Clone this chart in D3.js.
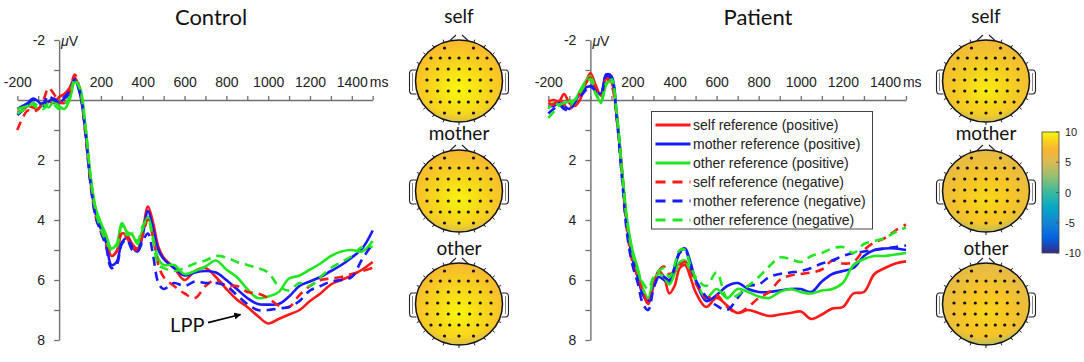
<!DOCTYPE html>
<html><head><meta charset="utf-8">
<script src="https://cdn.jsdelivr.net/npm/d3@7"></script>
<style>body{margin:0;background:#fff}svg{display:block}</style>
</head><body>
<svg id="chart" width="1084" height="362"></svg>
<script>
// ---------- DATA ----------
const times = [-200,-175,-150,-125,-100,-75,-50,-25,0,25,50,75,100,125,150,175,200,225,250,275,300,325,350,375,400,425,450,475,500,550,600,650,700,750,800,850,900,950,1000,1050,1100,1150,1200,1250,1300,1350,1400,1450,1500];

// Control group (µV)
const ctrlSelfPos = [0.4,0.35,0.2,0.25,0.3,0.1,0.05,0.1,-0.1,
  -0.2,-0.4,-0.75,-0.3,0.9,2.6,3.7,4.2,4.6,5.2,5.05,4.45,4.5,4.8,4.95,4.35,3.55,4.1,4.9,5.25,
  5.6,6.0,5.7,5.6,5.9,6.3,6.65,6.9,7.2,7.45,7.3,7.15,7.0,6.7,6.45,6.15,6.0,5.85,5.65,5.4];
const ctrlMotherPos = [0.3,0.2,0.1,-0.05,0.05,0.2,0.05,-0.05,0.1,
  -0.05,-0.2,-0.65,-0.2,1.0,2.7,3.8,4.3,4.75,5.5,5.4,4.75,4.6,4.9,5.05,4.5,3.7,4.3,5.0,5.3,
  5.6,5.85,5.75,5.7,5.75,6.0,6.3,6.6,6.8,6.82,6.8,6.55,6.2,6.05,5.9,5.7,5.5,5.25,4.95,4.35];
const ctrlOtherPos = [0.3,0.25,0.2,0.15,0.3,0.15,0.25,0.05,0.2,
  0.3,0.0,-0.6,-0.4,0.8,2.5,3.6,4.1,4.5,4.95,4.8,4.1,4.4,4.5,4.8,4.3,3.9,4.6,5.3,5.5,
  5.5,5.8,5.7,5.55,5.35,5.65,5.9,6.3,6.6,6.55,6.4,5.95,5.85,5.65,5.45,5.2,5.05,5.0,5.05,4.7];
const ctrlSelfNeg = [1.0,0.6,0.35,0.4,0.3,0.0,-0.4,-0.2,0.05,
  0.1,-0.3,-0.85,-0.3,1.1,2.8,3.9,4.4,4.85,5.2,5.05,4.4,4.6,4.9,5.0,4.5,4.0,4.6,5.5,5.9,
  6.2,6.45,6.6,6.2,6.0,6.2,6.2,6.4,6.45,6.6,6.85,6.9,6.5,6.2,6.0,5.95,5.9,5.8,5.7,5.6];
const ctrlMotherNeg = [0.5,0.35,0.15,0.0,0.1,0.1,-0.15,0.0,0.05,
  -0.1,-0.3,-0.7,-0.25,1.0,2.75,3.9,4.4,4.9,5.6,5.5,4.8,4.65,5.0,5.05,4.7,4.45,5.2,6.1,6.3,
  6.1,6.2,6.05,6.1,6.1,6.2,6.5,6.8,7.0,7.0,6.95,6.9,6.7,6.35,6.2,6.05,6.0,5.9,5.3,4.8];
const ctrlOtherNeg = [0.45,0.35,0.25,0.1,0.2,0.3,0.1,0.15,0.3,
  0.15,-0.1,-0.7,-0.35,0.85,2.55,3.7,4.3,4.7,5.0,4.9,4.2,4.5,4.45,4.7,4.2,4.0,4.7,5.5,5.6,
  5.7,5.6,5.45,5.35,5.2,5.25,5.4,5.5,5.6,5.75,6.2,6.35,6.1,6.2,5.9,5.6,5.4,5.2,4.9,4.9];

// Patient group (µV)
const patSelfPos = [0.05,0.0,0.05,-0.2,0.1,0.2,0.0,-0.5,-0.9,
  -0.5,-0.15,-0.75,-0.6,0.5,2.3,4.2,5.2,5.8,6.4,6.8,6.2,5.7,5.9,6.45,6.2,5.6,5.5,5.9,6.4,
  6.9,6.6,6.85,7.1,7.0,7.1,7.2,7.15,7.1,7.05,7.3,7.15,6.95,6.9,6.45,6.4,5.8,5.6,5.45,5.38];
const patMotherPos = [0.2,0.2,0.1,0.2,0.3,0.05,-0.2,-0.4,-0.45,
  -0.3,-0.2,-0.85,-0.8,0.5,2.4,4.2,5.3,5.9,6.5,6.7,6.1,5.9,6.0,6.05,5.6,5.05,4.95,5.4,6.0,
  6.7,6.5,6.2,6.1,6.3,6.4,6.4,6.35,6.3,6.3,6.4,6.05,5.8,5.7,5.6,5.2,5.0,4.95,4.95,5.0];
const patOtherPos = [0.3,0.1,0.15,0.1,0.05,0.0,-0.3,-0.6,-0.8,
  -0.3,0.1,-0.5,-0.7,0.4,2.3,4.0,5.0,5.6,6.3,6.6,6.0,5.8,5.9,6.15,5.8,5.4,5.35,5.7,6.0,
  6.6,6.3,6.6,6.3,6.4,6.55,6.6,6.4,6.3,6.4,6.45,6.35,6.3,6.1,5.5,5.3,5.2,5.2,5.15,5.1];
const patSelfNeg = [0.1,0.15,-0.05,0.15,0.3,0.1,-0.2,-0.5,-0.75,
  -0.4,-0.1,-0.7,-0.5,0.6,2.5,4.4,5.4,5.9,6.4,6.8,6.2,5.7,5.55,5.8,5.7,5.5,5.4,5.7,6.1,
  6.6,6.5,6.9,7.1,6.9,6.6,6.4,6.0,5.85,5.8,5.75,5.65,5.35,5.45,5.4,5.0,4.75,4.6,4.35,4.15];
const patMotherNeg = [0.45,0.3,0.15,0.3,0.35,0.1,-0.1,-0.3,-0.5,
  -0.3,-0.2,-0.8,-0.7,0.6,2.6,4.5,5.5,6.1,6.8,7.0,6.3,5.9,5.9,6.0,5.6,5.1,5.0,5.5,6.0,
  6.55,6.85,7.0,6.6,6.2,6.15,5.9,5.8,5.75,5.7,5.6,5.45,5.35,5.2,5.1,5.05,5.0,4.95,4.9,4.85];
const patOtherNeg = [0.6,0.4,0.2,0.1,0.2,0.0,-0.25,-0.5,-0.7,
  -0.2,0.05,-0.55,-0.6,0.5,2.4,4.1,5.1,5.7,6.1,6.3,5.9,5.7,5.6,5.9,5.5,5.0,5.0,5.5,5.9,
  6.2,5.75,6.6,6.5,6.2,5.9,5.55,5.25,5.3,5.4,5.2,5.1,4.95,4.9,5.1,4.8,4.7,4.6,4.4,4.25];

const seriesNames = ["self reference (positive)","mother reference (positive)","other reference (positive)",
                     "self reference (negative)","mother reference (negative)","other reference (negative)"];
const xTickLabels = [-200,200,400,600,800,1000,1200,1400];
const yTickLabels = [-2,2,4,6,8];

// Topographic maps (µV at scalp centre / mid / rim)
const mapNames = ["self","mother","other"];
const ctrlMapCenter = [10,9.8,9.9];
const ctrlMapMid = [9.0,8.8,8.9];
const ctrlMapRim = [7.2,7.0,7.0];
const patMapCenter = [9.6,8.8,8.7];
const patMapMid = [8.5,8.0,7.9];
const patMapRim = [6.6,5.8,5.6];
const colorbarTicks = [10,5,0,-5,-10];

// ---------- STYLE ----------
const colors = ["#ff1a1a","#1a1aff","#22e622","#ff1a1a","#1a1aff","#22e622"];
const dashed = [false,false,false,true,true,true];
const FONT = "'Liberation Sans', Arial, sans-serif";
const TFONT = "Lato, 'Open Sans', sans-serif";
const AXC = "#707070";

const parulaStops = [[0,"#352a87"],[0.125,"#0363e1"],[0.25,"#1485d4"],[0.375,"#06a7c6"],[0.5,"#38b99e"],
  [0.625,"#92bf73"],[0.75,"#d9ba56"],[0.86,"#fab52e"],[0.93,"#f6d41c"],[1,"#f9f70e"]];
const parula = d3.scaleLinear().domain(parulaStops.map(d=>-10+20*d[0])).range(parulaStops.map(d=>d[1])).clamp(true);

const svg = d3.select("#chart");
const defs = svg.append("defs");
defs.append("marker").attr("id","arrow").attr("viewBox","0 0 10 10").attr("refX",9).attr("refY",5)
  .attr("markerWidth",7).attr("markerHeight",7).attr("markerUnits","userSpaceOnUse").attr("orient","auto")
  .append("path").attr("d","M0,0 L10,5 L0,10 z").attr("fill","#000");

function drawPanel(p) {
  const x = d3.scaleLinear().domain([-200,1500]).range(p.xr);
  const y = d3.scaleLinear().domain([-2,8]).range([40,340]);
  const g = svg.append("g");
  g.append("text").attr("x",p.titleX).attr("y",25).attr("text-anchor","middle")
    .attr("font-family",TFONT).attr("font-size",22).attr("fill","#111").text(p.title);

  const xa = g.append("g").attr("transform",`translate(0,${y(0)})`)
    .call(d3.axisTop(x).tickValues(d3.range(-200,1501,100))
      .tickFormat(d => xTickLabels.includes(d) ? d : "").tickSize(4).tickSizeOuter(0).tickPadding(9.5));
  const ya = g.append("g").attr("transform",`translate(${x(0)},0)`)
    .call(d3.axisLeft(y).tickValues(d3.range(-2,9,1))
      .tickFormat(d => yTickLabels.includes(d) ? d : "").tickSize(5).tickSizeOuter(0).tickPadding(9));
  [xa,ya].forEach(a => {
    a.select(".domain").attr("stroke",AXC).attr("stroke-width",1.4);
    a.selectAll(".tick line").attr("stroke",AXC).attr("stroke-width",1.3);
    a.selectAll("text").attr("font-family",FONT).attr("font-size",14).attr("fill","#222");
  });
  g.append("text").attr("x",x(0)+2).attr("y",y(-2)+6).attr("font-family",FONT).attr("font-size",14).attr("fill","#222")
    .call(t => { t.append("tspan").attr("font-style","italic").text("\u03bc"); t.append("tspan").text("V"); });
  g.append("text").attr("x",x(1400)+18).attr("y",y(0)-13.5).attr("font-family",FONT).attr("font-size",14).attr("fill","#222").text("ms");

  const line = d3.line().x((d,i)=>x(times[i])).y(d=>y(d)).curve(d3.curveCatmullRom.alpha(0.5));
  p.series.forEach((s,i) => {
    g.append("path").attr("d",line(s)).attr("fill","none").attr("stroke",colors[i]).attr("stroke-width",2.6)
      .attr("stroke-linejoin","round").attr("stroke-dasharray",dashed[i] ? "9,6" : null);
  });
  return {x,y,g};
}

const ctrl = drawPanel({title:"Control", titleX:211, xr:[17.3,372.7],
  series:[ctrlSelfPos,ctrlMotherPos,ctrlOtherPos,ctrlSelfNeg,ctrlMotherNeg,ctrlOtherNeg]});
const pat = drawPanel({title:"Patient", titleX:758, xr:[548.3,906],
  series:[patSelfPos,patMotherPos,patOtherPos,patSelfNeg,patMotherNeg,patOtherNeg]});

// LPP annotation
const lpp = {t:531, v:7.72, fromT:712, fromV:7.42, toT:868, toV:7.15};
ctrl.g.append("text").attr("x",ctrl.x(lpp.t)).attr("y",ctrl.y(lpp.v)).attr("font-family",TFONT).attr("font-size",20).attr("fill","#111").text("LPP");
ctrl.g.append("line").attr("x1",ctrl.x(lpp.fromT)).attr("y1",ctrl.y(lpp.fromV)).attr("x2",ctrl.x(lpp.toT)).attr("y2",ctrl.y(lpp.toV))
  .attr("stroke","#000").attr("stroke-width",1.6).attr("marker-end","url(#arrow)");

// Legend
const lg = svg.append("g").attr("transform","translate(651.5,111.5)");
lg.append("rect").attr("width",221).attr("height",117.5).attr("fill","#fff").attr("stroke","#444").attr("stroke-width",1);
seriesNames.forEach((n,i) => {
  const yy = 13.5 + i*19;
  lg.append("line").attr("x1",4).attr("x2",39).attr("y1",yy).attr("y2",yy).attr("stroke",colors[i]).attr("stroke-width",2.8)
    .attr("stroke-dasharray",dashed[i] ? "10,7" : null);
  lg.append("text").attr("x",41.5).attr("y",yy+5).attr("font-family",FONT).attr("font-size",14).attr("fill","#222").text(n);
});

// Topomaps
const mapRowsY = [81,191,304];
const labelY = [23,140,255];
const rx = 43.5, ry = 41;
const elecRows = [
  {dy:-33, xs:[-14.5,14.5]},
  {dy:-23, xs:[-28,-18.7,-9.3,0,9.3,18.7,28]},
  {dy:-12, xs:[-32,-21.3,-10.7,0,10.7,21.3,32]},
  {dy:-1, xs:[-32,-21.3,-10.7,0,10.7,21.3,32]},
  {dy:10, xs:[-32,-21.3,-10.7,0,10.7,21.3,32]},
  {dy:21, xs:[-28,-18.7,-9.3,0,9.3,18.7,28]},
  {dy:32, xs:[-14.5,0,14.5]}];
const rimTickAngles = [20,35,50,65,115,130,145,160,180,200,215,230,245,295,310,325,340];

function drawHead(cx, cy, center, mid, rim, id, label, ly) {
  const gr = defs.append("radialGradient").attr("id","g"+id).attr("cx","50%").attr("cy","60%").attr("r","62%");
  gr.append("stop").attr("offset","0%").attr("stop-color",parula(center));
  gr.append("stop").attr("offset","40%").attr("stop-color",parula(mid));
  gr.append("stop").attr("offset","100%").attr("stop-color",parula(rim));
  const gr2 = defs.append("radialGradient").attr("id","r"+id).attr("cx","50%").attr("cy","30%").attr("r","72%");
  gr2.append("stop").attr("offset","84%").attr("stop-color",parula(rim-2.5)).attr("stop-opacity",0);
  gr2.append("stop").attr("offset","100%").attr("stop-color",parula(rim-2.5)).attr("stop-opacity",0.9);
  const h = svg.append("g");
  h.append("text").attr("x",cx).attr("y",ly).attr("text-anchor","middle").attr("font-family",TFONT).attr("font-size",19).attr("fill","#111").text(label);
  [-1,1].forEach(s => {
    const ex = cx + s*rx;
    h.append("path").attr("d",`M${ex-s*1},${cy-11} L${ex+s*3},${cy-11} Q${ex+s*6},${cy-11} ${ex+s*6},${cy-7} L${ex+s*6},${cy+9} Q${ex+s*6},${cy+13} ${ex+s*3},${cy+13} L${ex-s*1},${cy+13}`)
      .attr("fill","none").attr("stroke","#222").attr("stroke-width",1.1);
    h.append("path").attr("d",`M${ex+s*3},${cy-8} L${ex+s*3},${cy+10}`).attr("stroke","#666").attr("stroke-width",0.8);
  });
  h.append("ellipse").attr("cx",cx).attr("cy",cy).attr("rx",rx).attr("ry",ry).attr("fill",`url(#g${id})`);
  h.append("ellipse").attr("cx",cx).attr("cy",cy).attr("rx",rx).attr("ry",ry).attr("fill",`url(#r${id})`)
    .attr("stroke","#111").attr("stroke-width",1.5);
  h.append("path").attr("d",`M${cx-9},${cy-ry+0.5} L${cx-3},${cy-ry-5} M${cx+3},${cy-ry-5} L${cx+9},${cy-ry+0.5}`)
    .attr("fill","none").attr("stroke","#222").attr("stroke-width",1.1);
  rimTickAngles.forEach(a => {
    const r = a*Math.PI/180, sx = Math.sin(r), sy = -Math.cos(r);
    h.append("line").attr("x1",cx+sx*rx).attr("y1",cy+sy*ry).attr("x2",cx+sx*(rx+3)).attr("y2",cy+sy*(ry+3))
      .attr("stroke","#222").attr("stroke-width",1);
  });
  elecRows.forEach(row => row.xs.forEach(dx => {
    h.append("circle").attr("cx",cx+dx).attr("cy",cy+row.dy).attr("r",1.6).attr("fill","#111");
  }));
}
mapNames.forEach((n,i) => {
  drawHead(459, mapRowsY[i], ctrlMapCenter[i], ctrlMapMid[i], ctrlMapRim[i], "c"+i, n, labelY[i]);
  drawHead(986, mapRowsY[i], patMapCenter[i], patMapMid[i], patMapRim[i], "p"+i, n, labelY[i]);
});

// Colorbar
const cbY = d3.scaleLinear().domain([-10,10]).range([253,132]);
const cg = defs.append("linearGradient").attr("id","cbar").attr("x1",0).attr("y1",1).attr("x2",0).attr("y2",0);
parulaStops.forEach(s => cg.append("stop").attr("offset",s[0]).attr("stop-color",s[1]));
svg.append("rect").attr("x",1042).attr("y",cbY(10)).attr("width",17).attr("height",cbY(-10)-cbY(10))
  .attr("fill","url(#cbar)").attr("stroke","#444").attr("stroke-width",0.8);
colorbarTicks.forEach(v => {
  svg.append("line").attr("x1",1059).attr("x2",1056).attr("y1",cbY(v)).attr("y2",cbY(v)).attr("stroke","#444").attr("stroke-width",0.7);
  svg.append("text").attr("x",1065).attr("y",cbY(v)+4).attr("font-family",FONT).attr("font-size",11).attr("fill","#222").text(v);
});
</script>
</body></html>
